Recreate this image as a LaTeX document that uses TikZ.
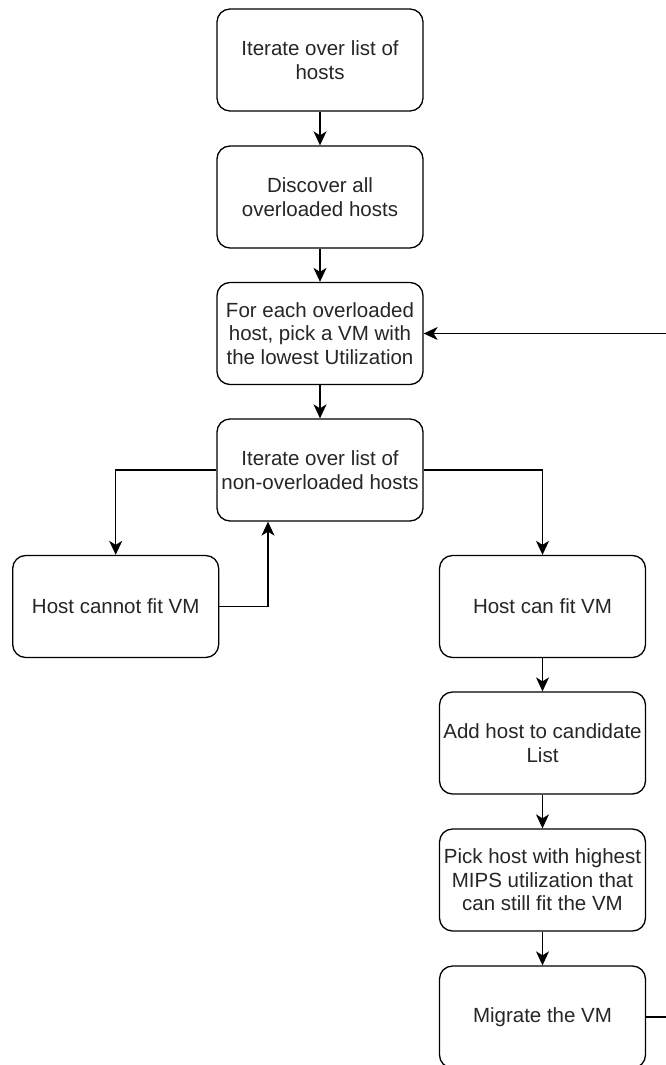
\documentclass[tikz,border=0pt]{standalone}
\usepackage{fontspec}
\setmainfont{Liberation Sans}
\usetikzlibrary{arrows.meta,calc}
\begin{document}
\begin{tikzpicture}[x=1pt,y=-1pt,
  stepbox/.style={draw=black,line width=1.3pt,rounded corners=13pt,fill=white,
    minimum width=206pt,minimum height=102pt,inner sep=2pt,align=center,
    text=black!85,font=\fontsize{20.5}{23.5}\selectfont},
  arr/.style={draw=black,line width=1.3pt,-{Stealth[length=14pt,width=13pt,inset=4pt]}}]
\useasboundingbox (0,0) rectangle (666,1065);
\clip (0,0) rectangle (666,1065);

% main column
\node[stepbox] (b1) at (320,60)    {Iterate over list of\\hosts};
\node[stepbox] (b2) at (320,197)   {Discover all\\overloaded hosts};
\node[stepbox] (b3) at (320,333.5) {For each overloaded\\host, pick a VM with\\the lowest Utilization};
\node[stepbox] (b4) at (320,470)   {Iterate over list of\\non-overloaded hosts};

% left branch
\node[stepbox] (b5) at (115.7,606.5) {Host cannot fit VM};

% right branch
\node[stepbox] (b6) at (542.5,606.5) {Host can fit VM};
\node[stepbox] (b7) at (542.5,743)   {Add host to candidate\\List};
\node[stepbox] (b8) at (542.5,880)   {Pick host with highest\\MIPS utilization that\\can still fit the VM};
\node[stepbox] (b9) at (542.5,1017)  {Migrate the VM};

% connectors
\draw[arr] (b1) -- (b2);
\draw[arr] (b2) -- (b3);
\draw[arr] (b3) -- (b4);
\draw[arr] (b4.west) -| (b5.north);
\draw[arr] (b5.east) -| ([xshift=-52pt]b4.south);
\draw[arr] (b4.east) -| (b6.north);
\draw[arr] (b6) -- (b7);
\draw[arr] (b7) -- (b8);
\draw[arr] (b8) -- (b9);
\draw[arr] (b9.east) -- ++(60,0) |- (b3.east);
\end{tikzpicture}
\end{document}
